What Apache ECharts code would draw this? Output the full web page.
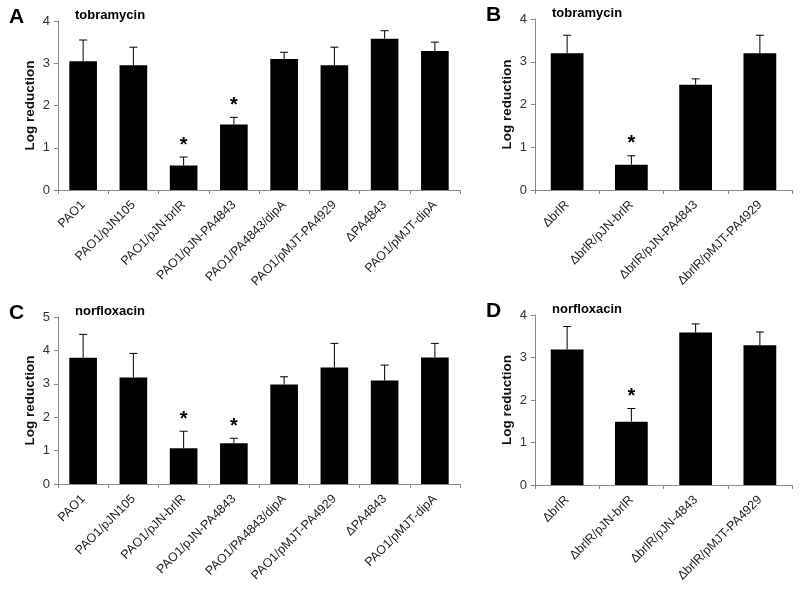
<!DOCTYPE html>
<html>
<head>
<meta charset="utf-8">
<script src="https://cdn.jsdelivr.net/npm/echarts@6/dist/echarts.min.js"></script>
<style>
html,body{margin:0;padding:0;background:#fff;}
#chart{width:800px;height:589px;}
</style>
</head>
<body>
<div id="chart"></div>
<script>
// ---- Data ----
var catsAC = ['PAO1','PAO1/pJN105','PAO1/pJN-brlR','PAO1/pJN-PA4843','PAO1/PA4843/dipA','PAO1/pMJT-PA4929','\u0394PA4843','PAO1/pMJT-dipA'];
var catsB = ['\u0394brlR','\u0394brlR/pJN-brlR','\u0394brlR/pJN-PA4843','\u0394brlR/pMJT-PA4929'];
var catsD = ['\u0394brlR','\u0394brlR/pJN-brlR','\u0394brlR/pJN-4843','\u0394brlR/pMJT-PA4929'];

var valA = [3.05, 2.95, 0.58, 1.55, 3.10, 2.95, 3.58, 3.29];
var errA = [0.50, 0.43, 0.20, 0.17, 0.16, 0.43, 0.19, 0.21];
var sigA = [0, 0, 1, 1, 0, 0, 0, 0];

var valB = [3.20, 0.59, 2.46, 3.20];
var errB = [0.42, 0.21, 0.14, 0.42];
var sigB = [0, 1, 0, 0];

var valC = [3.78, 3.19, 1.07, 1.22, 2.98, 3.49, 3.10, 3.79];
var errC = [0.70, 0.72, 0.51, 0.15, 0.23, 0.72, 0.46, 0.42];
var sigC = [0, 0, 1, 1, 0, 0, 0, 0];

var valD = [3.19, 1.49, 3.59, 3.29];
var errD = [0.54, 0.31, 0.20, 0.31];
var sigD = [0, 1, 0, 0];

var panelLetters = ['A','B','C','D'];
var drugNames = ['tobramycin','tobramycin','norfloxacin','norfloxacin'];
var yMax = [4, 4, 5, 4];

// ---- Layout ----
var grids = [
  {left: 58, top: 21, width: 402, height: 169},
  {left: 535, top: 19, width: 257, height: 171},
  {left: 58, top: 317, width: 402, height: 167},
  {left: 535, top: 315, width: 257, height: 170}
];
var cats = [catsAC, catsB, catsAC, catsD];
var vals = [valA, valB, valC, valD];
var errs = [errA, errB, errC, errD];
var sigs = [sigA, sigB, sigC, sigD];
var barWidths = ['55%', '51%', '55%', '51%'];

var FONT = '"Liberation Sans", Arial, sans-serif';
var axisColor = '#8a8a8a';

var xAxes = [], yAxes = [], series = [], graphics = [];
for (var i = 0; i < 4; i++) {
  xAxes.push({
    type: 'category', gridIndex: i, data: cats[i], boundaryGap: true,
    axisLine: {show: true, lineStyle: {color: axisColor, width: 1}},
    axisTick: {show: true, alignWithLabel: false, length: 4, lineStyle: {color: axisColor}},
    axisLabel: {rotate: 45, interval: 0, margin: 13, fontSize: 12.5, color: '#222', fontFamily: FONT},
    splitLine: {show: false}
  });
  yAxes.push({
    type: 'value', gridIndex: i, min: 0, max: yMax[i], interval: 1,
    name: 'Log reduction', nameLocation: 'middle', nameRotate: 90, nameGap: 21,
    nameMoveOverlap: false,
    nameTextStyle: {fontSize: 13.5, fontWeight: 'bold', color: '#111', fontFamily: FONT},
    axisLine: {show: true, lineStyle: {color: axisColor, width: 1}},
    axisTick: {show: true, length: 4, lineStyle: {color: axisColor}},
    axisLabel: {fontSize: 13, color: '#333', margin: 8, fontFamily: FONT},
    splitLine: {show: false}
  });
  series.push({
    type: 'bar', xAxisIndex: i, yAxisIndex: i, data: vals[i],
    barWidth: barWidths[i], itemStyle: {color: '#000'}, silent: true, animation: false
  });
  var ed = [];
  for (var k = 0; k < vals[i].length; k++) {
    ed.push([k, vals[i][k], vals[i][k] + errs[i][k], sigs[i][k]]);
  }
  series.push({
    type: 'custom', xAxisIndex: i, yAxisIndex: i, data: ed, animation: false, silent: true, z: 5,
    renderItem: function (params, api) {
      var x = api.value(0);
      var p0 = api.coord([x, api.value(1)]);
      var p1 = api.coord([x, api.value(2)]);
      var cap = 4;
      var children = [
        {type: 'line', shape: {x1: p0[0], y1: p0[1], x2: p1[0], y2: p1[1]}, style: {stroke: '#000', lineWidth: 1}},
        {type: 'line', shape: {x1: p1[0] - cap, y1: p1[1], x2: p1[0] + cap, y2: p1[1]}, style: {stroke: '#000', lineWidth: 1}}
      ];
      if (api.value(3)) {
        children.push({type: 'text', x: p1[0], y: p1[1] - 2,
          style: {text: '*', font: 'bold 20px ' + FONT, fill: '#000', align: 'center', verticalAlign: 'bottom'}});
      }
      return {type: 'group', children: children};
    }
  });
  var g = grids[i];
  graphics.push({type: 'text', left: g.left - 49, top: g.top - 14,
    style: {text: panelLetters[i], font: 'bold 21px ' + FONT, fill: '#000'}});
  graphics.push({type: 'text', left: g.left + 17, top: g.top - 12,
    style: {text: drugNames[i], font: 'bold 13px ' + FONT, fill: '#000'}});
}

var chart = echarts.init(document.getElementById('chart'), null, {renderer: 'canvas'});
chart.setOption({
  backgroundColor: '#fff',
  animation: false,
  grid: grids,
  xAxis: xAxes,
  yAxis: yAxes,
  series: series,
  graphic: graphics
});
</script>
</body>
</html>
